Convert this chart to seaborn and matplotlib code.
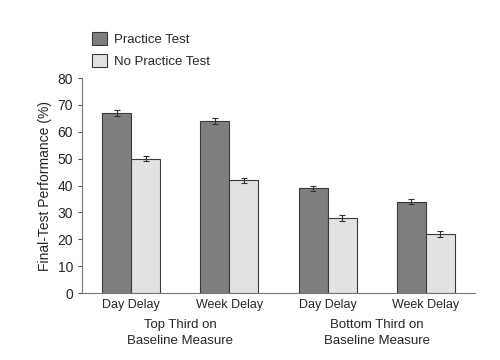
import pandas as pd
import matplotlib
matplotlib.use("Agg")
import matplotlib.pyplot as plt
from matplotlib.patches import Patch
import seaborn as sns

# Données
conditions = ["Day Delay", "Week Delay", "Day Delay ", "Week Delay "]
tick_labels = ["Day Delay", "Week Delay", "Day Delay", "Week Delay"]
groups = ["Top Third on\nBaseline Measure", "Bottom Third on\nBaseline Measure"]
practice = [67, 64, 39, 34]
no_practice = [50, 42, 28, 22]
practice_err = [1.0, 1.0, 1.0, 1.0]
no_practice_err = [1.0, 1.0, 1.0, 1.0]
series = ["Practice Test", "No Practice Test"]

df = pd.DataFrame({
    "Condition": conditions * 2,
    "Score": practice + no_practice,
    "Groupe": [series[0]] * 4 + [series[1]] * 4,
})

sns.set_style("ticks")
plt.rcParams["font.family"] = ["Liberation Sans Narrow", "Liberation Sans", "DejaVu Sans"]

fig = plt.figure(figsize=(5, 3.6), dpi=100)
ax = fig.add_axes([0.164, 0.186, 0.786, 0.597])

sns.barplot(data=df, x="Condition", y="Score", hue="Groupe", ax=ax,
            palette=["#7f7f7f", "#e2e2e2"], width=0.59, errorbar=None,
            edgecolor="#3a3a3a", linewidth=0.8, legend=False)

# Barres d'erreur à partir des rectangles dessinés
for container, errs in zip(ax.containers, [practice_err, no_practice_err]):
    xs = [p.get_x() + p.get_width() / 2 for p in container.patches]
    ys = [p.get_height() for p in container.patches]
    ax.errorbar(xs, ys, yerr=errs, fmt="none", ecolor="#333333",
                elinewidth=0.8, capsize=2, capthick=0.8)

ax.set_ylim(0, 80)
ax.set_yticks(range(0, 81, 10))
ax.set_xlim(-0.5, 3.5)
ax.set_xticks(range(4))
ax.set_xticklabels(tick_labels, fontsize=9)
ax.tick_params(axis="x", length=0, pad=4)
ax.tick_params(axis="y", labelsize=10, length=3, color="#555555")
ax.set_xlabel("")
ax.set_ylabel("Final-Test Performance (%)", fontsize=10)
for s in ["top", "right"]:
    ax.spines[s].set_visible(False)
for s in ["left", "bottom"]:
    ax.spines[s].set_color("#777777")
    ax.spines[s].set_linewidth(0.8)

# Étiquettes de groupe sous l'axe
for i, g in enumerate(groups):
    ax.text(0.5 + 2 * i, -0.12, g, transform=ax.get_xaxis_transform(),
            ha="center", va="top", fontsize=9.5, linespacing=1.45)

# Légende
handles = [Patch(facecolor="#7f7f7f", edgecolor="#3a3a3a", linewidth=0.8),
           Patch(facecolor="#e2e2e2", edgecolor="#3a3a3a", linewidth=0.8)]
fig.legend(handles, series, loc="upper left", bbox_to_anchor=(0.16, 0.945),
           frameon=False, fontsize=9.5, handlelength=1.15, handleheight=1.15,
           labelspacing=0.6, handletextpad=0.5)

fig.savefig("out.png", dpi=100)
plt.close(fig)
